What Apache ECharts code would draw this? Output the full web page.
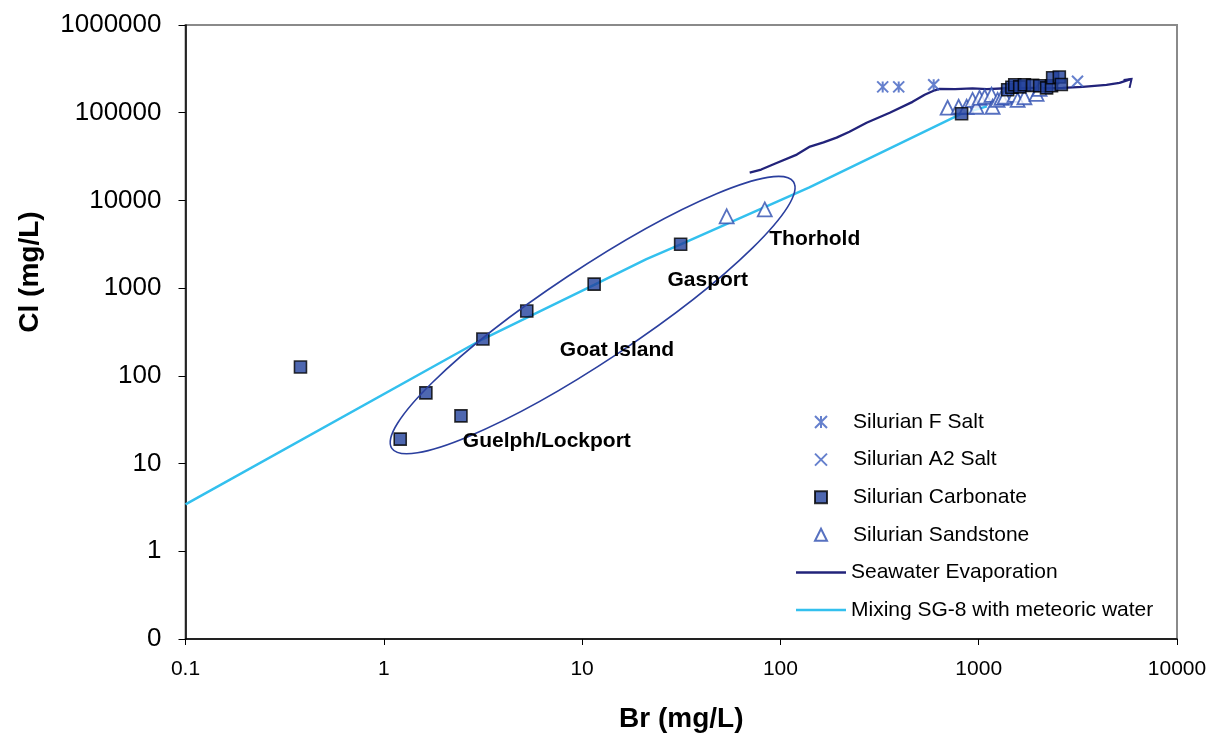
<!DOCTYPE html>
<html>
<head>
<meta charset="utf-8">
<script src="https://cdn.jsdelivr.net/npm/echarts@6/dist/echarts.min.js"></script>
<style>
html,body{margin:0;padding:0;background:#fff;}
#chart{width:1217px;height:738px;}
</style>
</head>
<body>
<div id="chart"></div>
<script>
// ---------- data (Br mg/L, Cl mg/L) ----------
const xTickLabels = ['0.1', '1', '10', '100', '1000', '10000'];
const yTickLabels = ['0', '1', '10', '100', '1000', '10000', '100000', '1000000'];

const fSalt = [[328, 197000], [395, 197000], [593, 208000]];
const a2Salt = [[3150, 228000]];
const carbonate = [
  [0.38, 126], [1.21, 19], [1.63, 64], [2.45, 35], [3.16, 263], [5.26, 548],
  [11.5, 1110], [31.4, 3160], [820, 97500],
  [1400, 183000], [1470, 195000], [1520, 208000], [1610, 197000], [1700, 208000],
  [1870, 205000], [2030, 203000], [2200, 192000], [2330, 203000], [2360, 250000],
  [2550, 255000], [2610, 210000]
];
const sandstone = [
  [53.6, 6580], [83.4, 7900], [697, 114000], [792, 117000], [869, 117000],
  [931, 140000], [975, 117000], [1010, 148000], [1072, 152000], [1161, 160000],
  [1175, 117000], [1245, 140000], [1303, 148000], [1352, 152000], [1518, 160000],
  [1571, 140000], [1700, 150000], [1958, 164000], [2027, 187000]
];
const seawater = [
  [70, 20800], [80, 22500], [95, 26500], [121, 33300], [141, 41100], [165, 46000],
  [192, 52000], [223, 60800], [272, 76900], [356, 100000], [464, 133000],
  [534, 160000], [600, 180000], [635, 187000], [760, 186000], [931, 189000],
  [1100, 186000], [1380, 190000], [1800, 192000], [2200, 190000], [2650, 192000],
  [3340, 197000], [4410, 208000], [5130, 219000], [5900, 243000]
];
const mixing = [
  [0.1, 3.42], [3.16, 263], [11.5, 1089], [21.1, 2137],
  [31.4, 3160], [140, 14060], [820, 97500], [1100, 118000]
];
const annotations = [
  {text: 'Guelph/Lockport', at: [6.64, 18.2]},
  {text: 'Goat Island', at: [15.0, 197]},
  {text: 'Gasport', at: [43.0, 1233]},
  {text: 'Thorhold', at: [149, 3606]}
];
const ellipseCenter = [11.3, 493];

// ---------- chart ----------
const chart = echarts.init(document.getElementById('chart'), null, {renderer: 'canvas'});
const FONT = "'Liberation Sans', Arial, sans-serif";
const legendText = {fontSize: 21, color: '#000', lineHeight: 22, fontFamily: FONT};

const option = {
  backgroundColor: '#fff',
  animation: false,
  textStyle: {fontFamily: FONT},
  grid: {left: 185.5, right: 40, top: 25, bottom: 97, show: true, borderColor: '#8a8a8a', borderWidth: 2, containLabel: false},
  xAxis: {
    type: 'log', logBase: 10, min: 0.1, max: 10000,
    name: 'Br (mg/L)', nameLocation: 'middle', nameGap: 66,
    nameTextStyle: {fontSize: 28, fontWeight: 'bold', color: '#000', fontFamily: FONT},
    axisLine: {lineStyle: {color: '#000', width: 1.5}},
    axisTick: {show: true, inside: false, length: 6, lineStyle: {color: '#000', width: 1}},
    minorTick: {show: false},
    splitLine: {show: false},
    axisLabel: {
      fontSize: 21, color: '#000', margin: 20, fontFamily: FONT,
      formatter: (v, i) => xTickLabels[i]
    }
  },
  yAxis: {
    type: 'log', logBase: 10, min: 0.1, max: 1000000,
    axisLine: {lineStyle: {color: '#000', width: 1.5}},
    axisTick: {show: true, inside: false, length: 7, lineStyle: {color: '#000', width: 1}},
    splitLine: {show: false},
    axisLabel: {
      fontSize: 26, color: '#000', margin: 24, fontFamily: FONT,
      formatter: (v, i) => yTickLabels[i]
    }
  },
  legend: [
    {
      orient: 'vertical', left: 814, top: 411, padding: 0,
      itemWidth: 12, itemHeight: 12, itemGap: 15.6,
      textStyle: Object.assign({padding: [0, 0, 0, 21]}, legendText),
      data: ['Silurian F Salt', 'Silurian A2 Salt', 'Silurian Carbonate', 'Silurian Sandstone']
    },
    {
      orient: 'vertical', left: 796, top: 561.4, padding: 0,
      itemWidth: 50, itemHeight: 2.5, itemGap: 15.6,
      textStyle: legendText,
      data: [
        {name: 'Seawater Evaporation', icon: 'rect'},
        {name: 'Mixing SG-8 with meteoric water', icon: 'rect'}
      ]
    }
  ],
  series: [
    {
      name: 'Seawater Evaporation', type: 'line', data: seawater, showSymbol: false, symbol: 'none',
      lineStyle: {color: '#22237a', width: 2.3}, itemStyle: {color: '#22237a'}, z: 2
    },
    {
      name: 'Mixing SG-8 with meteoric water', type: 'line', data: mixing, showSymbol: false, symbol: 'none',
      lineStyle: {color: '#33c0ee', width: 2.5}, itemStyle: {color: '#33c0ee'}, z: 2
    },
    {
      name: 'Silurian F Salt', type: 'scatter', data: fSalt,
      symbol: 'path://M0,0L10,10M10,0L0,10M5,0L5,10', symbolSize: 11,
      itemStyle: {color: 'rgba(0,0,0,0)', borderColor: '#3f60c0', borderWidth: 2}, z: 3
    },
    {
      name: 'Silurian A2 Salt', type: 'scatter', data: a2Salt,
      symbol: 'path://M0,0L10,10M10,0L0,10', symbolSize: 11,
      itemStyle: {color: 'rgba(0,0,0,0)', borderColor: '#3f60c0', borderWidth: 2}, z: 3
    },
    {
      name: 'Silurian Sandstone', type: 'scatter', data: sandstone,
      symbol: 'triangle', symbolSize: 14,
      itemStyle: {color: '#ffffff', borderColor: '#2d4db0', borderWidth: 1.8}, z: 4
    },
    {
      name: 'Silurian Carbonate', type: 'scatter', data: carbonate,
      symbol: 'rect', symbolSize: 12,
      itemStyle: {color: '#22419c', borderColor: '#000', borderWidth: 1.6}, z: 5
    }
  ]
};
chart.setOption(option);

// annotations, ellipse, arrow head positioned from data coordinates
function px(p) { return chart.convertToPixel({gridIndex: 0}, p); }
const c = px(ellipseCenter);
const endP = px(seawater[seawater.length - 1]);
const graphics = [
  {
    type: 'ellipse', x: c[0], y: c[1], rotation: 0.586,
    shape: {cx: 0, cy: 0, rx: 241, ry: 46},
    style: {fill: 'none', stroke: '#2b3f9e', lineWidth: 1.6}, z: 10
  },
  {
    type: 'polyline',
    shape: {points: [[endP[0] - 8, endP[1] + 1], [endP[0], endP[1]], [endP[0] - 2, endP[1] + 9]]},
    style: {fill: 'none', stroke: '#22237a', lineWidth: 2}, z: 10
  }
];
annotations.forEach(a => {
  const p = px(a.at);
  graphics.push({
    type: 'text', x: p[0], y: p[1], z: 11,
    style: {text: a.text, fontSize: 21, fontWeight: 'bold', fill: '#000', fontFamily: FONT, align: 'center', verticalAlign: 'middle'}
  });
});
graphics.push({
  type: 'text', x: 30, y: 272, rotation: Math.PI / 2, z: 11,
  style: {text: 'Cl (mg/L)', fontSize: 28, fontWeight: 'bold', fill: '#000', fontFamily: FONT, align: 'center', verticalAlign: 'middle'}
});
chart.setOption({graphic: graphics});
</script>
</body>
</html>
